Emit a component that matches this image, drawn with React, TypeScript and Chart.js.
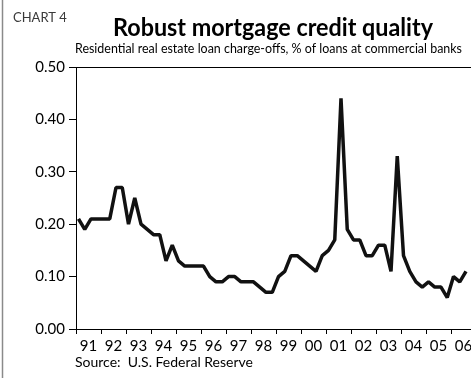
import React, { useEffect, useRef } from "react";
import { Chart, registerables } from "chart.js";

Chart.register(...registerables);

// ---- data ----
const startYear = 1991;
const yearTicks = [1991, 1992, 1993, 1994, 1995, 1996, 1997, 1998, 1999, 2000, 2001, 2002, 2003, 2004, 2005, 2006];
const yearTickLabels = ["91", "92", "93", "94", "95", "96", "97", "98", "99", "00", "01", "02", "03", "04", "05", "06"];
const yTicks = [0, 0.1, 0.2, 0.3, 0.4, 0.5];
// quarterly charge-off rate, 1991Q1 .. 2006Q3
const chargeOffs = [
  0.21, 0.19, 0.21, 0.21,
  0.21, 0.21, 0.27, 0.27,
  0.20, 0.25, 0.20, 0.19,
  0.18, 0.18, 0.13, 0.16,
  0.13, 0.12, 0.12, 0.12,
  0.12, 0.10, 0.09, 0.09,
  0.10, 0.10, 0.09, 0.09,
  0.09, 0.08, 0.07, 0.07,
  0.10, 0.11, 0.14, 0.14,
  0.13, 0.12, 0.11, 0.14,
  0.15, 0.17, 0.44, 0.19,
  0.17, 0.17, 0.14, 0.14,
  0.16, 0.16, 0.11, 0.33,
  0.14, 0.11, 0.09, 0.08,
  0.09, 0.08, 0.08, 0.06,
  0.10, 0.09, 0.11,
];

const chartLabel = "CHART 4";
const titleText = "Robust mortgage credit quality";
const subtitleText = "Residential real estate loan charge-offs, % of loans at commercial banks";
const sourceText = "Source:  U.S. Federal Reserve";

const FONT = 'Lato, "Liberation Sans", Arial, sans-serif';

const textPlugin = {
  id: "texts",
  afterDraw(chart: any) {
    const ctx = chart.ctx as CanvasRenderingContext2D;
    const a = chart.chartArea;
    ctx.save();
    // left frame line
    ctx.strokeStyle = "#8a8a8a";
    ctx.lineWidth = 1.5;
    ctx.beginPath();
    ctx.moveTo(2.5, 0);
    ctx.lineTo(2.5, chart.height);
    ctx.stroke();
    // top plot border
    ctx.strokeStyle = "#000";
    ctx.lineWidth = 1;
    ctx.beginPath();
    ctx.moveTo(a.left, Math.round(a.top) + 0.5);
    ctx.lineTo(a.right, Math.round(a.top) + 0.5);
    ctx.stroke();

    ctx.textBaseline = "alphabetic";
    ctx.fillStyle = "#3a3a3a";
    ctx.textAlign = "left";
    ctx.font = `13px ${FONT}`;
    ctx.fillText(chartLabel, 13, 22, 57);

    ctx.fillStyle = "#000";
    ctx.textAlign = "center";
    ctx.font = `bold 24px ${FONT}`;
    ctx.fillText(titleText, 273, 36, 320);

    ctx.textAlign = "left";
    ctx.font = `14px ${FONT}`;
    ctx.fillText(subtitleText, 75, 53, 387);

    ctx.font = `14px ${FONT}`;
    ctx.fillText(sourceText, 75, 367, 183);
    ctx.restore();
  },
};

export default function App() {
  const ref = useRef<HTMLCanvasElement | null>(null);
  useEffect(() => {
    if (!ref.current) return;
    const points = chargeOffs.map((v, i) => ({ x: startYear + i / 4 + 0.1, y: v }));
    const chart = new Chart(ref.current, {
      type: "line",
      data: {
        datasets: [
          {
            data: points,
            borderColor: "#111",
            borderWidth: 3.5,
            borderJoinStyle: "bevel",
            pointRadius: 0,
            fill: false,
            tension: 0,
          },
        ],
      },
      options: {
        animation: false,
        responsive: false,
        layout: { padding: { top: 67, left: 0, right: 0, bottom: 0 } },
        plugins: { legend: { display: false }, tooltip: { enabled: false }, title: { display: false } },
        scales: {
          x: {
            type: "linear",
            min: 1991,
            max: 1991 + 395 / 25,
            afterBuildTicks: (scale: any) => {
              scale.ticks = yearTicks.map((v) => ({ value: v }));
            },
            afterFit: (scale: any) => {
              scale.height = 49;
            },
            grid: { drawOnChartArea: false, color: "#000", tickLength: 5, tickWidth: 1 },
            border: { color: "#000", width: 1 },
            ticks: {
              autoSkip: false,
              maxRotation: 0,
              minRotation: 0,
              padding: 3,
              labelOffset: 12.5,
              color: "#000",
              font: { family: FONT, size: 15 },
              callback: (v: any) => {
                const idx = yearTicks.indexOf(Math.round(Number(v)));
                return idx >= 0 ? yearTickLabels[idx] : "";
              },
            },
          },
          y: {
            min: 0,
            max: 0.5,
            afterBuildTicks: (scale: any) => {
              scale.ticks = yTicks.map((v) => ({ value: v }));
            },
            afterFit: (scale: any) => {
              scale.width = 76;
            },
            grid: { drawOnChartArea: false, color: "#000", tickLength: 7, tickWidth: 1 },
            border: { color: "#000", width: 1 },
            ticks: {
              padding: 4,
              color: "#000",
              font: { family: FONT, size: 15 },
              callback: (v: any) => Number(v).toFixed(2),
            },
          },
        },
      },
      plugins: [textPlugin],
    });
    return () => chart.destroy();
  }, []);
  return (
    <div style={{ position: "absolute", left: 0, top: 0, width: 471, height: 378, background: "#fff" }}>
      <canvas ref={ref} width={471} height={378} style={{ display: "block", width: 471, height: 378 }} />
    </div>
  );
}
